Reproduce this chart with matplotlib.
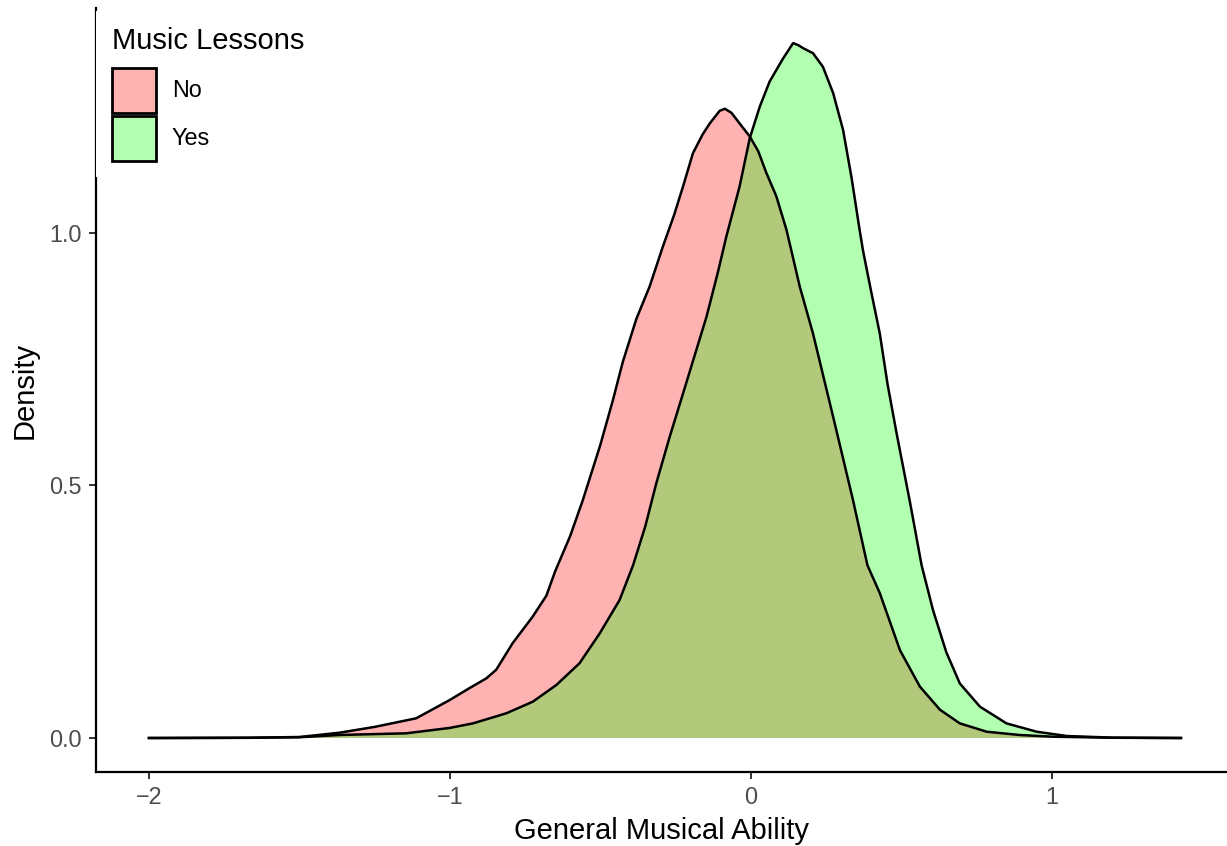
import numpy as np
import matplotlib.pyplot as plt
from matplotlib.patches import Patch

plt.rcParams['font.family'] = ['Liberation Sans', 'DejaVu Sans']

# density curves
x_no = [-2.0, -1.67, -1.5, -1.367, -1.25, -1.112, -1.001, -0.934, -0.879, -0.846,
        -0.791, -0.725, -0.679, -0.650, -0.60, -0.558, -0.50, -0.458, -0.425,
        -0.38, -0.336, -0.292, -0.255, -0.225, -0.192, -0.16, -0.136, -0.103,
        -0.086, -0.064, -0.037, -0.003, 0.025, 0.052, 0.085, 0.119, 0.163, 0.207,
        0.274, 0.340, 0.388, 0.429, 0.496, 0.562, 0.629, 0.695, 0.784, 0.895,
        1.004, 1.2, 1.43]
d_no = [0.0, 0.0005, 0.002, 0.0105, 0.022, 0.039, 0.075, 0.099, 0.118, 0.135,
        0.188, 0.240, 0.282, 0.33, 0.40, 0.471, 0.58, 0.669, 0.745,
        0.83, 0.894, 0.973, 1.035, 1.092, 1.158, 1.195, 1.217, 1.242,
        1.246, 1.238, 1.217, 1.191, 1.162, 1.119, 1.073, 1.006, 0.894, 0.801,
        0.636, 0.471, 0.342, 0.287, 0.174, 0.102, 0.056, 0.029, 0.0125, 0.0059,
        0.0026, 0.0005, 0.0]

x_yes = [-2.0, -1.67, -1.5, -1.367, -1.145, -1.0, -0.923, -0.812, -0.724, -0.646,
         -0.569, -0.502, -0.436, -0.391, -0.35, -0.314, -0.27, -0.225, -0.185,
         -0.147, -0.110, -0.081, -0.037, -0.003, 0.030, 0.063, 0.107,
         0.141, 0.158, 0.174, 0.207, 0.240, 0.274, 0.307, 0.335,
         0.362, 0.373, 0.40, 0.429, 0.455, 0.485, 0.53, 0.568, 0.606, 0.65,
         0.695, 0.762, 0.850, 0.950, 1.050, 1.2, 1.43]
d_yes = [0.0, 0.0004, 0.0015, 0.006, 0.0093, 0.02, 0.029, 0.049, 0.072, 0.105,
         0.148, 0.207, 0.273, 0.342, 0.42, 0.504, 0.595, 0.682, 0.76,
         0.834, 0.92, 0.993, 1.092, 1.188, 1.250, 1.300, 1.345,
         1.376, 1.372, 1.366, 1.356, 1.329, 1.277, 1.204, 1.11,
         1.006, 0.966, 0.885, 0.801, 0.70, 0.603, 0.465, 0.342, 0.253, 0.17,
         0.108, 0.062, 0.029, 0.0125, 0.004, 0.0008, 0.0]

groups = ['No', 'Yes']
fills = [(1, 0, 0, 0.3), (0, 1, 0, 0.3)]

fig = plt.figure(figsize=(12.27, 8.46), dpi=100)
ax = fig.add_axes([96 / 1227, 1 - 772 / 846, 1 - 96 / 1227, (772 - 8) / 846])

for (xs, ds), fc in zip([(x_no, d_no), (x_yes, d_yes)], fills):
    ax.fill_between(xs, ds, 0, facecolor=fc, edgecolor='none')
    ax.plot(xs, ds, color='black', lw=1.8, solid_joinstyle='round')

ax.set_xlim(-2.176, 1.583)
ax.set_ylim(-0.0673, 1.4455)
ax.set_xticks([-2, -1, 0, 1])
ax.set_yticks([0.0, 0.5, 1.0])
ax.set_yticklabels(['0.0', '0.5', '1.0'])
for s in ['top', 'right']:
    ax.spines[s].set_visible(False)
for s in ['left', 'bottom']:
    ax.spines[s].set_linewidth(1.6)
ax.tick_params(length=5, width=1.4, color='#333333', labelcolor='#4D4D4D',
               labelsize=16.8, pad=5)
ax.set_xlabel('General Musical Ability', fontsize=21, labelpad=6)
ax.set_ylabel('Density', fontsize=21, labelpad=8)

handles = [Patch(facecolor=fc, edgecolor='black', lw=2) for fc in fills]
leg = ax.legend(handles, groups, title='Music Lessons', loc='upper left',
                bbox_to_anchor=(0, 0.9965), frameon=True, fontsize=16.8,
                title_fontsize=21, handlelength=1.85, handleheight=2.6,
                labelspacing=0.13, handletextpad=0.7, borderpad=0.7,
                borderaxespad=0, alignment='left')
leg._legend_box.sep = 9
leg.get_frame().set_edgecolor('none')
leg.get_frame().set_facecolor('white')
leg.get_frame().set_alpha(1)
leg.get_frame().set_boxstyle('square', pad=0)

fig.savefig('out.png', dpi=100)
